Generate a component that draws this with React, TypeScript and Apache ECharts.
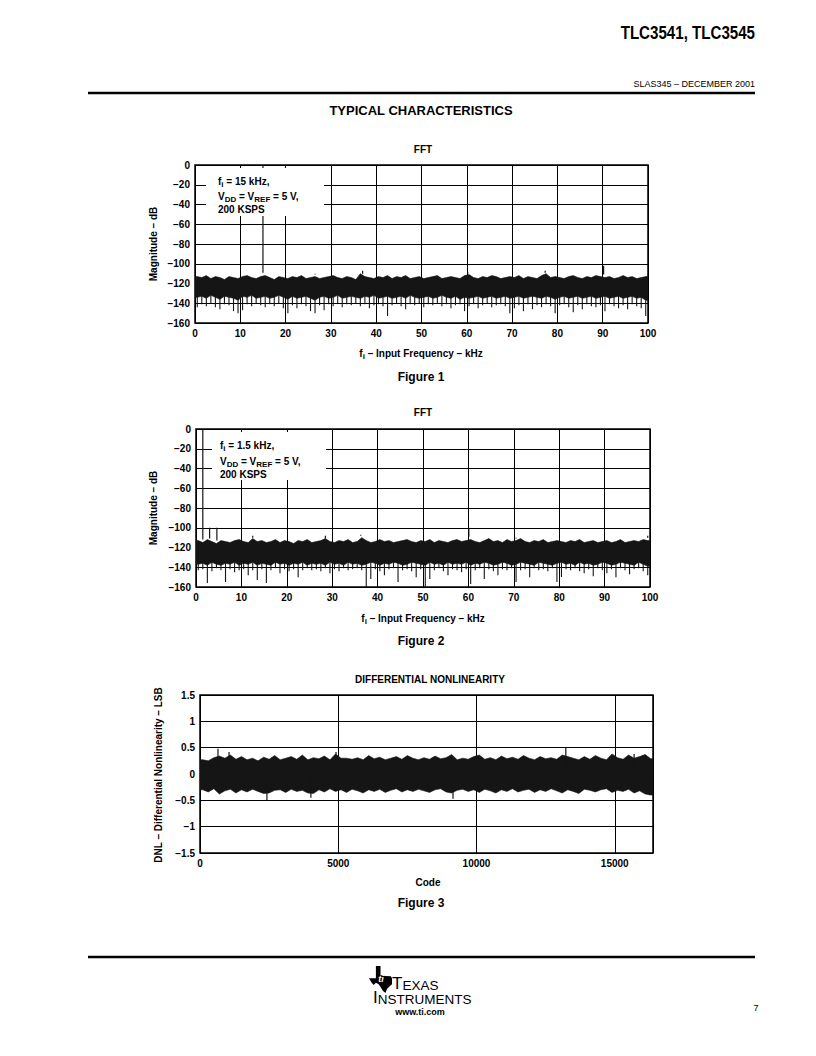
import React, { useEffect, useRef } from "react";
import * as echarts from "echarts";

// ---------- data ----------
const fftBinKHz = 1; // width of one noise-floor bin (kHz)

// Figure 1 (fi = 15 kHz): noise floor per 1-kHz bin
const fft1Top = [
  -113, -114, -112, -115, -113, -114, -116, -113, -114, -115,
  -113, -112, -114, -115, -113, -112, -114, -116, -113, -114,
  -115, -113, -114, -112, -115, -114, -113, -115, -114, -113,
  -112, -114, -115, -113, -114, -116, -110, -113, -114, -115,
  -113, -114, -112, -115, -113, -114, -112, -115, -114, -113,
  -115, -114, -113, -112, -115, -114, -113, -114, -115, -112,
  -111, -114, -115, -113, -114, -112, -113, -115, -114, -113,
  -114, -112, -115, -113, -114, -115, -112, -110, -114, -113,
  -114, -115, -113, -112, -114, -115, -113, -114, -112, -113,
  -114, -113, -115, -114, -112, -114, -113, -115, -114, -113,
];
const fft1Bot = [
  -134, -133, -135, -132, -134, -136, -133, -134, -135, -137,
  -133, -134, -132, -135, -134, -133, -135, -134, -132, -134,
  -136, -133, -135, -134, -133, -135, -137, -134, -133, -135,
  -134, -132, -135, -134, -133, -134, -135, -133, -134, -132,
  -135, -134, -133, -135, -134, -133, -135, -132, -134, -135,
  -134, -133, -135, -134, -132, -134, -135, -133, -136, -134,
  -135, -134, -133, -135, -134, -133, -135, -134, -133, -135,
  -134, -133, -135, -134, -133, -134, -135, -133, -134, -136,
  -134, -133, -135, -134, -133, -135, -134, -133, -135, -134,
  -133, -135, -134, -133, -135, -134, -133, -135, -134, -137,
];
const fft1Low = [
  -144, -141, -143, -140, -144, -146, -141, -142, -148, -150,
  -147, -141, -143, -140, -142, -144, -141, -143, -140, -145,
  -150, -142, -145, -141, -143, -148, -150, -142, -147, -141,
  -143, -140, -144, -141, -142, -140, -143, -141, -145, -142,
  -141, -143, -153, -142, -140, -143, -146, -141, -142, -140,
  -144, -141, -142, -140, -143, -141, -145, -142, -141, -148,
  -143, -141, -145, -142, -140, -144, -142, -141, -143, -150,
  -145, -142, -148, -141, -146, -142, -144, -141, -143, -150,
  -142, -141, -144, -149, -142, -146, -141, -143, -144, -142,
  -148, -141, -143, -145, -142, -146, -141, -143, -145, -153,
];
// tones: [frequency kHz, magnitude dB]
const fft1Spikes = [
  [15, -1], [90.2, -102], [37, -107], [60.2, -110], [77.3, -109], [46.5, -109], [26.5, -111],
];

// Figure 2 (fi = 1.5 kHz)
const fft2Top = [
  -113, -115, -112, -114, -116, -113, -114, -115, -113, -112,
  -114, -115, -111, -114, -113, -115, -114, -112, -115, -113,
  -114, -116, -113, -114, -112, -115, -114, -113, -111, -114,
  -115, -113, -114, -112, -115, -114, -110, -113, -115, -114,
  -112, -114, -113, -115, -114, -113, -112, -114, -115, -113,
  -114, -112, -115, -113, -114, -115, -113, -112, -114, -113,
  -112, -114, -115, -113, -111, -114, -113, -115, -112, -114,
  -113, -111, -114, -115, -113, -114, -112, -115, -114, -113,
  -114, -115, -113, -114, -112, -115, -114, -113, -115, -114,
  -113, -115, -114, -112, -115, -114, -113, -114, -112, -113,
];
const fft2Bot = [
  -137, -136, -138, -135, -137, -138, -136, -137, -135, -138,
  -136, -137, -135, -138, -136, -137, -138, -135, -137, -136,
  -138, -136, -137, -135, -138, -136, -137, -136, -138, -135,
  -137, -136, -138, -135, -137, -136, -138, -137, -135, -136,
  -138, -136, -137, -135, -136, -138, -137, -135, -136, -137,
  -138, -135, -137, -136, -138, -135, -137, -136, -137, -135,
  -138, -136, -137, -135, -136, -138, -137, -135, -136, -138,
  -137, -135, -136, -137, -138, -135, -136, -137, -138, -136,
  -135, -137, -136, -138, -135, -137, -136, -138, -137, -135,
  -136, -138, -137, -135, -136, -137, -138, -135, -137, -139,
];
const fft2Low = [
  -143, -142, -156, -144, -141, -143, -155, -142, -145, -143,
  -142, -148, -143, -153, -142, -156, -143, -141, -146, -142,
  -144, -142, -150, -143, -141, -143, -142, -144, -141, -146,
  -142, -144, -141, -143, -142, -141, -143, -160, -152, -142,
  -144, -148, -142, -141, -155, -143, -142, -144, -150, -142,
  -160, -152, -143, -141, -144, -148, -142, -143, -145, -142,
  -157, -143, -141, -152, -142, -144, -148, -142, -143, -141,
  -155, -143, -142, -150, -141, -143, -142, -144, -141, -155,
  -150, -142, -143, -141, -144, -146, -142, -149, -141, -143,
  -146, -142, -150, -141, -143, -147, -142, -141, -144, -148,
];
const fft2Spikes = [
  [1.5, -0.5], [3, -100], [4.6, -100], [60.1, -100], [12.5, -110], [36.3, -108], [28.5, -111],
  [70.5, -111], [99.5, -108],
];

// Figure 3: DNL per 200-code bin (LSB)
const dnlBinCodes = 200;
const dnlHi = [
  0.27, 0.25, 0.31, 0.34, 0.30, 0.36, 0.28, 0.33, 0.27, 0.30,
  0.25, 0.32, 0.28, 0.35, 0.27, 0.30, 0.33, 0.28, 0.36, 0.27,
  0.31, 0.29, 0.34, 0.27, 0.38, 0.30, 0.30, 0.28, 0.31, 0.27,
  0.35, 0.29, 0.32, 0.27, 0.30, 0.33, 0.28, 0.35, 0.30, 0.27,
  0.31, 0.28, 0.34, 0.29, 0.31, 0.37, 0.27, 0.30, 0.28, 0.33,
  0.36, 0.28, 0.31, 0.27, 0.34, 0.29, 0.32, 0.28, 0.35, 0.30,
  0.27, 0.33, 0.29, 0.31, 0.28, 0.36, 0.33, 0.30, 0.27, 0.33,
  0.28, 0.35, 0.30, 0.27, 0.38, 0.31, 0.28, 0.36, 0.30, 0.33,
  0.37, 0.29,
];
const dnlLo = [
  -0.30, -0.34, -0.28, -0.38, -0.32, -0.29, -0.36, -0.30, -0.34, -0.29,
  -0.33, -0.37, -0.36, -0.31, -0.30, -0.35, -0.29, -0.33, -0.31, -0.36,
  -0.37, -0.30, -0.34, -0.28, -0.33, -0.30, -0.35, -0.29, -0.32, -0.36,
  -0.30, -0.33, -0.29, -0.35, -0.31, -0.28, -0.34, -0.30, -0.33, -0.29,
  -0.32, -0.35, -0.30, -0.28, -0.34, -0.36, -0.31, -0.29, -0.33, -0.30,
  -0.35, -0.29, -0.32, -0.36, -0.30, -0.33, -0.28, -0.34, -0.31, -0.29,
  -0.35, -0.30, -0.33, -0.28, -0.32, -0.36, -0.30, -0.33, -0.37, -0.29,
  -0.31, -0.34, -0.30, -0.28, -0.35, -0.31, -0.33, -0.29, -0.36, -0.32,
  -0.38, -0.40,
];
// isolated DNL codes: [code, LSB]
const dnlSpikes = [
  [650, 0.48], [1050, 0.42], [2420, -0.5], [4010, -0.45], [4920, 0.42], [9150, -0.47],
  [13230, 0.5], [16250, -0.4], [15700, 0.38],
];

const fftTicks = { min: 0, max: 100, interval: 10 };
const magTicks = { min: -160, max: 0, interval: 20 };
const codeTicks = { min: 0, max: 16383, interval: 5000 };
const dnlTicks = { min: -1.5, max: 1.5, interval: 0.5 };

// ---------- styling ----------
const FONT = '"Liberation Sans", Arial, Helvetica, sans-serif';
const INK = "#151515";
const fmtNeg = (v: number) => String(v).replace("-", "\u2212");

const axisLabel = {
  color: "#000",
  fontFamily: FONT,
  fontWeight: "bold" as const,
  fontSize: 10,
  margin: 5,
  formatter: fmtNeg,
};
const splitLine = { show: true, lineStyle: { color: "#000", width: 1 } };

function xAxisOf(gridIndex: number, t: any, extra: any = {}) {
  return {
    type: "value", gridIndex, min: t.min, max: t.max, interval: t.interval,
    axisLine: { show: false }, axisTick: { show: false },
    axisLabel: { ...axisLabel, ...extra }, splitLine,
  };
}
function yAxisOf(gridIndex: number, t: any) {
  return {
    type: "value", gridIndex, min: t.min, max: t.max, interval: t.interval,
    axisLine: { show: false }, axisTick: { show: false },
    axisLabel, splitLine,
  };
}

// continuous noise band: one polygon through the bin tops and bin bottoms
function bandPolygon(idx: number, hi: number[], lo: number[], bin: number, xMax: number) {
  return {
    type: "custom", xAxisIndex: idx, yAxisIndex: idx, clip: true, silent: true,
    data: [[0, hi[0]]],
    renderItem: (_p: any, api: any) => {
      const pts: number[][] = [];
      pts.push(api.coord([0, hi[0]]));
      hi.forEach((v, i) => pts.push(api.coord([Math.min(xMax, (i + 0.5) * bin), v])));
      pts.push(api.coord([xMax, hi[hi.length - 1]]));
      pts.push(api.coord([xMax, lo[lo.length - 1]]));
      for (let i = lo.length - 1; i >= 0; i--) pts.push(api.coord([Math.min(xMax, (i + 0.5) * bin), lo[i]]));
      pts.push(api.coord([0, lo[0]]));
      return { type: "polygon", shape: { points: pts }, style: { fill: INK, stroke: INK, lineWidth: 0.6 } };
    },
  };
}

// per-bin deepest excursion below the band
function lowSeries(idx: number, bot: number[], low: number[]) {
  const data = bot.map((b, i) => [(i + 0.5) * fftBinKHz, b, low[i]]);
  return {
    type: "custom", xAxisIndex: idx, yAxisIndex: idx, clip: true, silent: true,
    data,
    renderItem: (_p: any, api: any) => {
      const a = api.coord([api.value(0), api.value(1)]);
      const b = api.coord([api.value(0), api.value(2)]);
      return { type: "line", shape: { x1: a[0], y1: a[1] - 2, x2: b[0], y2: b[1] }, style: { stroke: INK, lineWidth: 1.1 } };
    },
  };
}

function spikeSeries(idx: number, spikes: number[][], top: number[] | null) {
  const data = spikes.map((s) => [s[0], s[1], top ? top[Math.min(top.length - 1, Math.floor(s[0] / fftBinKHz))] + 3 : 0]);
  return {
    type: "custom", xAxisIndex: idx, yAxisIndex: idx, clip: true, silent: true,
    data,
    renderItem: (_p: any, api: any) => {
      const a = api.coord([api.value(0), api.value(1)]);
      const b = api.coord([api.value(0), api.value(2)]);
      return { type: "line", shape: { x1: a[0], y1: a[1], x2: b[0], y2: b[1] }, style: { stroke: INK, lineWidth: 1.2 } };
    },
  };
}

const T = (x: number, y: number, text: string, o: any = {}, extra: any = {}) => ({
  type: "text", x, y, z: 100, ...extra,
  style: {
    text, fontFamily: FONT, fill: "#000", fontSize: 10, fontWeight: "bold",
    align: "center", verticalAlign: "middle", ...o,
  },
});

const subRich = {
  n: { fontFamily: FONT, fontSize: 10, fontWeight: "bold", lineHeight: 14, fill: "#000" },
  s: { fontFamily: FONT, fontSize: 8, fontWeight: "bold", lineHeight: 14, verticalAlign: "bottom", fill: "#000" },
};

function condBox(x: number, y: number, w: number, h: number, tx: number, ys: number[], fi: string) {
  return [
    { type: "rect", z: 90, shape: { x, y, width: w, height: h }, style: { fill: "#fff" } },
    T(tx, ys[0], `{n|f}{s|i}{n| = ${fi} kHz,}`, { align: "left", rich: subRich }),
    T(tx, ys[1], "{n|V}{s|DD}{n| = V}{s|REF}{n| = 5 V,}", { align: "left", rich: subRich }),
    T(tx, ys[2], "{n|200 KSPS}", { align: "left", rich: subRich }),
  ];
}

const xName = (x: number, y: number) =>
  T(x, y, "{n|f}{s|i}{n| \u2013 Input Frequency \u2013 kHz}", { rich: subRich });

const texasPts = [
  [0.3, 0], [0.5, 0], [0.5, 0.33], [0.7, 0.37], [0.95, 0.38], [1.0, 0.45], [1.0, 0.68],
  [0.9, 0.75], [0.78, 0.85], [0.72, 1.0], [0.6, 0.92], [0.5, 0.78], [0.42, 0.68],
  [0.3, 0.62], [0.2, 0.7], [0.1, 0.6], [0, 0.45], [0.3, 0.45],
];
const tiRich = {
  b: { fontFamily: FONT, fontSize: 17, fill: "#000", verticalAlign: "bottom", lineHeight: 16 },
  c: { fontFamily: FONT, fontSize: 13.5, fill: "#000", verticalAlign: "bottom", lineHeight: 16 },
};

export default function App() {
  const ref = useRef<HTMLDivElement>(null);
  useEffect(() => {
    if (!ref.current) return;
    const chart = echarts.init(ref.current, null, { renderer: "svg" });
    const gridBase = { show: true, borderColor: "#000", borderWidth: 1.5, backgroundColor: "transparent" };
    const option: any = {
      animation: false,
      backgroundColor: "#fff",
      grid: [
        { ...gridBase, left: 195, top: 165, width: 453, height: 158 },
        { ...gridBase, left: 196, top: 429, width: 454, height: 158 },
        { ...gridBase, left: 200, top: 695, width: 453, height: 158 },
      ],
      xAxis: [
        xAxisOf(0, fftTicks),
        xAxisOf(1, fftTicks),
        xAxisOf(2, codeTicks, { showMaxLabel: false }),
      ],
      yAxis: [yAxisOf(0, magTicks), yAxisOf(1, magTicks), yAxisOf(2, dnlTicks)],
      series: [
        bandPolygon(0, fft1Top, fft1Bot, fftBinKHz, 100),
        lowSeries(0, fft1Bot, fft1Low),
        spikeSeries(0, fft1Spikes, fft1Top),
        bandPolygon(1, fft2Top, fft2Bot, fftBinKHz, 100),
        lowSeries(1, fft2Bot, fft2Low),
        spikeSeries(1, fft2Spikes, fft2Top),
        bandPolygon(2, dnlHi, dnlLo, dnlBinCodes, 16383),
        spikeSeries(2, dnlSpikes, null),
      ],
      graphic: [
        T(755, 33, "TLC3541, TLC3545", { fontSize: 18, align: "right" }, { scaleX: 0.84 }),
        T(755, 84, "SLAS345 \u2013 DECEMBER 2001", { fontSize: 9, fontWeight: "normal", align: "right" }),
        { type: "line", z: 100, shape: { x1: 88, y1: 93, x2: 755, y2: 93 }, style: { stroke: "#000", lineWidth: 2.5 } },
        T(421, 110, "TYPICAL CHARACTERISTICS", { fontSize: 13 }),
        // Figure 1
        T(423, 149, "FFT"),
        ...condBox(206, 168, 118, 48, 218, [181, 196, 209], "15"),
        T(153, 244, "Magnitude \u2013 dB", {}, { rotation: Math.PI / 2 }),
        xName(421, 353),
        T(421, 377, "Figure 1", { fontSize: 12 }),
        // Figure 2
        T(423, 412, "FFT"),
        ...condBox(212, 432, 114, 48, 220, [445, 461, 474], "1.5"),
        T(153, 508, "Magnitude \u2013 dB", {}, { rotation: Math.PI / 2 }),
        xName(423, 618),
        T(421, 641, "Figure 2", { fontSize: 12 }),
        // Figure 3
        T(430, 679, "DIFFERENTIAL NONLINEARITY"),
        T(158, 775, "DNL \u2013 Differential Nonlinearity \u2013 LSB", {}, { rotation: Math.PI / 2 }),
        T(428, 882, "Code"),
        T(421, 903, "Figure 3", { fontSize: 12 }),
        // footer
        { type: "line", z: 100, shape: { x1: 88, y1: 957, x2: 755, y2: 957 }, style: { stroke: "#000", lineWidth: 2.5 } },
        {
          type: "polygon", z: 100,
          shape: { points: texasPts.map((p) => [369 + p[0] * 23, 966 + p[1] * 27]) },
          style: { fill: "#000" },
        },
        T(381, 979, "ti", { fontSize: 9, fill: "#fff", fontStyle: "italic" }),
        T(392, 984, "{b|T}{c|EXAS}", { align: "left", rich: tiRich }),
        T(373, 998, "{b|I}{c|NSTRUMENTS}", { align: "left", rich: tiRich }),
        T(420, 1012, "www.ti.com", { fontSize: 9 }),
        T(756, 1008, "7", { fontSize: 9, fontWeight: "normal" }),
      ],
    };
    chart.setOption(option);
    return () => chart.dispose();
  }, []);
  return (
    <div
      ref={ref}
      style={{ position: "absolute", left: 0, top: 0, width: 816, height: 1056 }}
    />
  );
}
